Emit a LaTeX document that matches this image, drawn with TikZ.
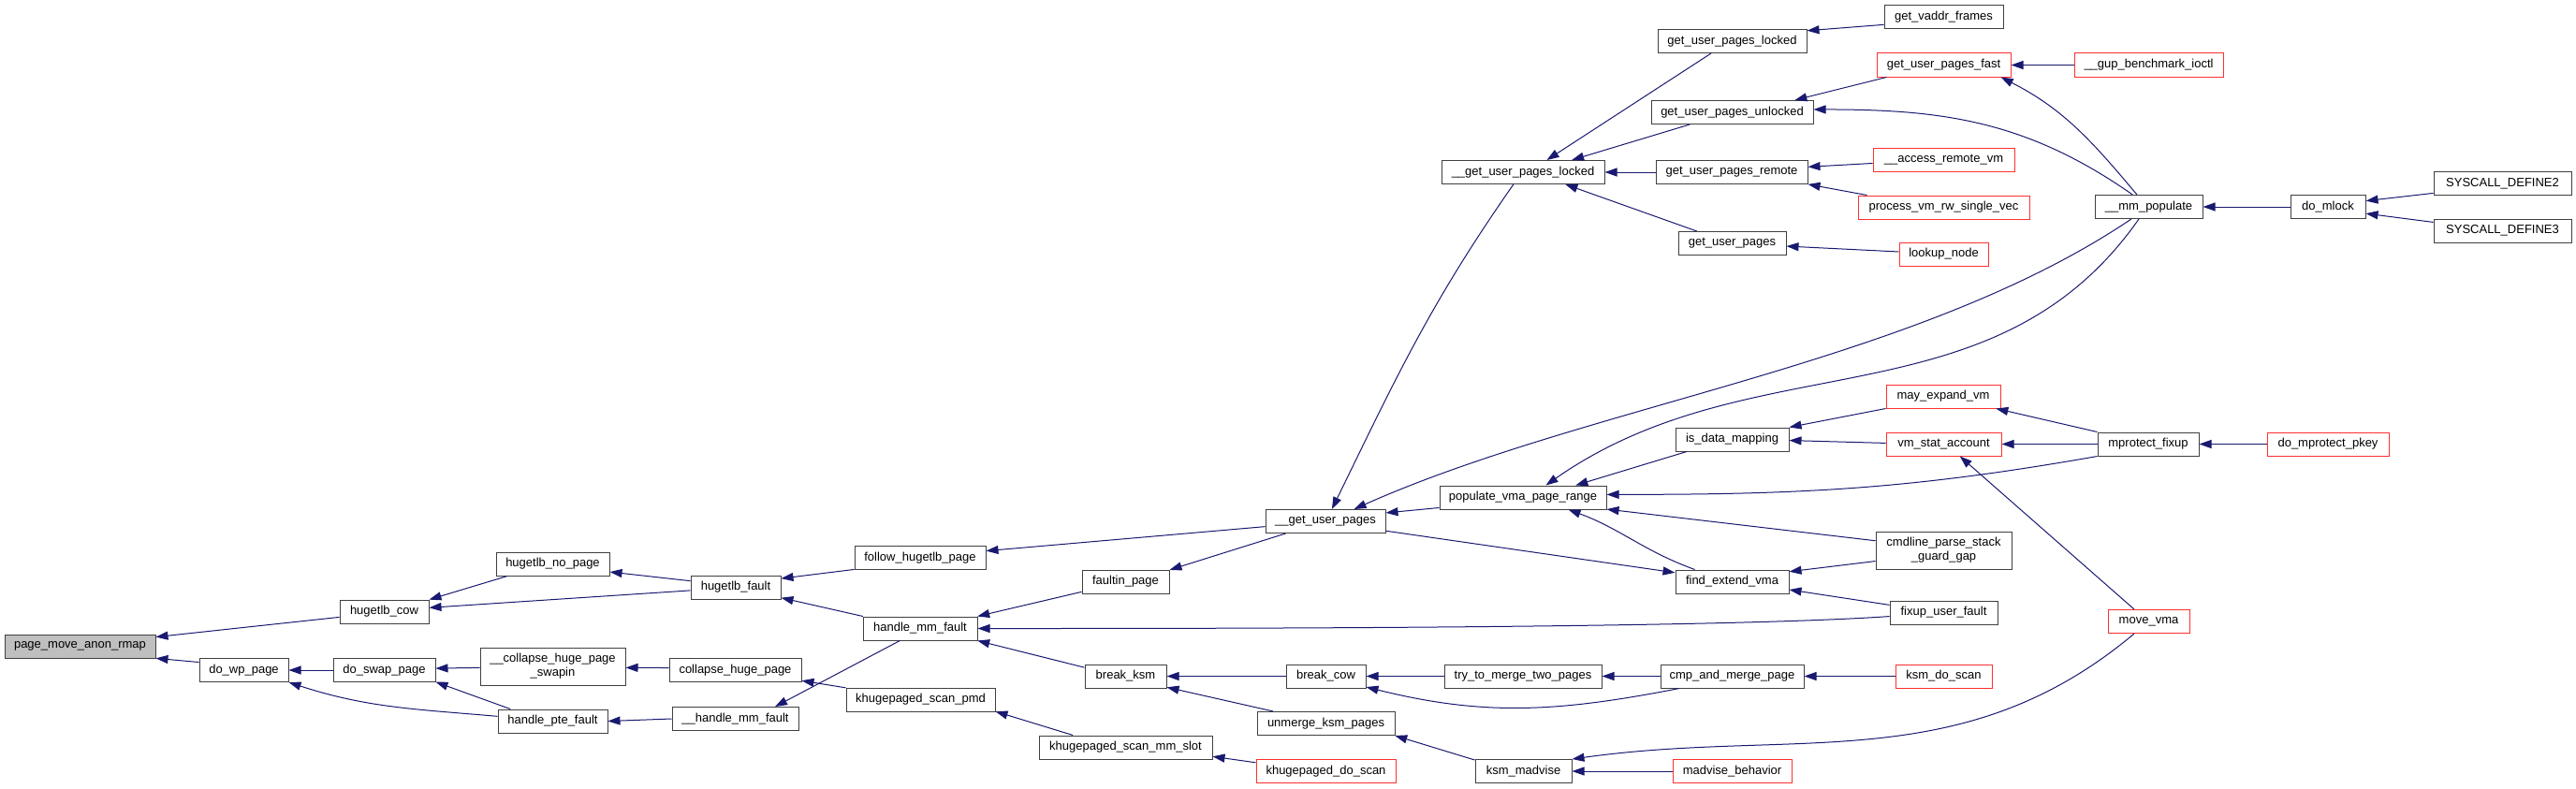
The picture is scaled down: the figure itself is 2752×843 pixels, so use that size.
\documentclass[tikz,border=0pt]{standalone}
\usepackage{fontspec}
\setmainfont{Liberation Sans}
\usetikzlibrary{arrows.meta}

\definecolor{edgeblue}{HTML}{191970}
\definecolor{boxline}{HTML}{404040}
\definecolor{boxred}{HTML}{FF3030}
\definecolor{rootfill}{HTML}{BFBFBF}

\begin{document}
\begin{tikzpicture}[
		x=1pt,
		y=1pt,
		fn/.style={draw=boxline, line width=1pt, rectangle, inner sep=0pt,
				minimum height=25pt, text=black, font=\fontsize{13}{15}\selectfont},
		fnred/.style={fn, draw=boxred},
		fnroot/.style={fn, fill=rootfill},
		fntwo/.style={fn, align=center, minimum height=40pt},
		call/.style={draw=edgeblue, line width=1pt, -{Triangle[length=13pt,width=9pt]}}
	]

	\useasboundingbox (0,0) rectangle (2752,-843);

	% Root function
	\node[fnroot, minimum width=161pt] (pmar) at (85.5,-690.5) {page\_move\_anon\_rmap};

	% Callers, black boxes
	\foreach \id/\cx/\cy/\w/\txt in {
			hcow/410.5/653.5/95/hugetlb\_cow,
			dwp/260.5/716/95/do\_wp\_page,
			dsp/410.5/716/109/do\_swap\_page,
			hnp/590.5/602.5/121/hugetlb\_no\_page,
			hflt/786/627.5/96/hugetlb\_fault,
			chp/785.5/716/141/collapse\_huge\_page,
			hpf/590.5/770.5/117/handle\_pte\_fault,
			hmfi/785.5/768/135/\_\_handle\_mm\_fault,
			fhp/983/596/140/follow\_hugetlb\_page,
			fip/1202.5/621.5/93/faultin\_page,
			hmf/983/671.5/122/handle\_mm\_fault,
			bksm/1202.5/722.5/87/break\_ksm,
			ksp/983.5/747.5/159/khugepaged\_scan\_pmd,
			ksms/1202.5/798.5/185/khugepaged\_scan\_mm\_slot,
			gup/1416/557/128/\_\_get\_user\_pages,
			bcow/1416.5/722.5/85/break\_cow,
			umkp/1416.5/773/147/unmerge\_ksm\_pages,
			gupli/1627/184/174/\_\_get\_user\_pages\_locked,
			gupl/1850.5/44/159/get\_user\_pages\_locked,
			gupu/1850.5/120/173/get\_user\_pages\_unlocked,
			gupr/1850/184/162/get\_user\_pages\_remote,
			gupg/1850.5/260/115/get\_user\_pages,
			pvpr/1627/531.5/178/populate\_vma\_page\_range,
			idm/1850.5/469.5/121/is\_data\_mapping,
			fev/1850.5/621.5/121/find\_extend\_vma,
			ttm/1627/722.5/168/try\_to\_merge\_two\_pages,
			cmp/1850.5/722.5/153/cmp\_and\_merge\_page,
			ksmm/1627.5/824/103/ksm\_madvise,
			gvf/2076.5/18.5/127/get\_vaddr\_frames,
			mmp/2295.5/221/115/\_\_mm\_populate,
			mpf/2295/474.5/108/mprotect\_fixup,
			fuf/2076.5/654.5/115/fixup\_user\_fault,
			dml/2487/221/80/do\_mlock,
			sd2/2673.5/196/147/SYSCALL\_DEFINE2,
			sd3/2673.5/246.5/147/SYSCALL\_DEFINE3
		} {
			\node[fn, minimum width=\w pt] (\id) at (\cx,-\cy) {\txt};
		}

	% Two-line boxes
	\node[fntwo, minimum width=155pt] (chps) at (590.5,-712) {\_\_collapse\_huge\_page\\\_swapin};
	\node[fntwo, minimum width=145pt] (cps) at (2076.5,-588) {cmdline\_parse\_stack\\\_guard\_gap};

	% Callers, red boxes (truncated graph)
	\foreach \id/\cx/\cy/\w/\txt in {
			kds/1416.5/824/149/khugepaged\_do\_scan,
			mbh/1850.5/824/127/madvise\_behavior,
			gupf/2076.5/69.5/143/get\_user\_pages\_fast,
			gbi/2295.5/69.5/159/\_\_gup\_benchmark\_ioctl,
			arv/2076.5/170.5/151/\_\_access\_remote\_vm,
			pvr/2076.5/221.5/183/process\_vm\_rw\_single\_vec,
			lkn/2076.5/271.5/95/lookup\_node,
			mev/2076/423.5/122/may\_expand\_vm,
			vsa/2076.5/474.5/123/vm\_stat\_account,
			mvm/2295.5/664/87/move\_vma,
			kdsc/2076.5/722.5/103/ksm\_do\_scan,
			dmp/2487/474.5/130/do\_mprotect\_pkey
		} {
			\node[fnred, minimum width=\w pt] (\id) at (\cx,-\cy) {\txt};
		}

	% Calls, left part
	\draw[call] (hcow.187) -- (pmar.7);
	\draw[call] (dwp.170) -- (pmar.-9);
	\draw[call] (hnp.195) -- (hcow.15);
	\draw[call] (hflt.184) -- (hcow.5);
	\draw[call] (dsp.west) -- (dwp.east);
	\draw[call] (hpf.175) to[out=175,in=-18] (dwp.south east);
	\draw[call] (chps.181) -- (dsp.2);
	\draw[call] (hpf.164) -- (dsp.-13);
	\draw[call] (hflt.172) -- (hnp.-8);
	\draw[call] (chp.178) -- (chps.-1);
	\draw[call] (hmfi.west) -- (hpf.east);
	\draw[call] (fhp.190) -- (hflt.11);
	\draw[call] (hmf.168) -- (hflt.-13);
	\draw[call] (ksp.171) -- (chp.-9);
	\draw[call] (hmf.211) -- (hmfi.17);

	% Calls, middle part
	\draw[call] (gup.185) -- (fhp.6);
	\draw[call] (fip.193) -- (hmf.12);
	\draw[call] (fuf.184) to[out=184,in=0,looseness=0.5] (hmf.east);
	\draw[call] (bksm.168) -- (hmf.-12);
	\draw[call] (ksms.167) -- (ksp.-9);
	\draw[call] (kds.173) -- (ksms.-6);
	\draw[call] (gup.197) -- (fip.15);
	\draw[call] (bcow.west) -- (bksm.east);
	\draw[call] (umkp.167) -- (bksm.-15);
	\draw[call] (gupli.232) to[out=-125,in=64] (gup.62);
	\draw[call] (mmp.215) to[out=214,in=24,looseness=0.8] (gup.23);
	\draw[call] (pvpr.187) -- (gup.8);
	\draw[call] (gup.-9) -- (fev.171);
	\draw[call] (ttm.west) -- (bcow.east);
	\draw[call] (cmp.193) to[out=191,in=-14] (bcow.-15);
	\draw[call] (ksmm.167) -- (umkp.-10);
	\draw[call] (mvm.220) to[out=220,in=8] (ksmm.14);
	\draw[call] (mbh.west) -- (ksmm.east);

	% Calls into populate_vma_page_range and friends
	\draw[call] (idm.195) -- (pvpr.13);
	\draw[call] (mmp.231) to[out=235,in=35] (pvpr.28);
	\draw[call] (mpf.south west) to[out=190,in=0] (pvpr.2);
	\draw[call] (cps.172) -- (pvpr.-8);
	\draw[call] (fev.162) to[out=160,in=-20] (pvpr.-15);
	\draw[call] (mev.south west) -- (idm.north east);
	\draw[call] (vsa.179) -- (idm.-1);
	\draw[call] (mpf.north west) -- (mev.-13);
	\draw[call] (mpf.west) -- (vsa.east);
	\draw[call] (mvm.140) -- (vsa.-37);
	\draw[call] (cps.189) -- (fev.10);
	\draw[call] (fuf.172) -- (fev.-8);
	\draw[call] (kdsc.west) -- (cmp.east);
	\draw[call] (cmp.west) -- (ttm.east);

	% Calls into __get_user_pages_locked and friends
	\draw[call] (gupl.210) -- (gupli.27);
	\draw[call] (gupu.196) -- (gupli.14);
	\draw[call] (gupr.west) -- (gupli.east);
	\draw[call] (gupg.161) -- (gupli.-16);
	\draw[call] (gvf.187) -- (gupl.8);
	\draw[call] (gupf.192) -- (gupu.11);
	\draw[call] (mmp.143) to[out=145,in=0] (gupu.2);
	\draw[call] (gbi.west) -- (gupf.east);
	\draw[call] (mmp.134) to[out=130,in=-27] (gupf.-12);
	\draw[call] (arv.183) -- (gupr.4);
	\draw[call] (pvr.171) -- (gupr.-9);
	\draw[call] (lkn.177) -- (gupg.-3);

	% Calls, right part
	\draw[call] (dml.west) -- (mmp.east);
	\draw[call] (sd2.188) -- (dml.9);
	\draw[call] (sd3.173) -- (dml.-10);
	\draw[call] (dmp.west) -- (mpf.east);

\end{tikzpicture}
\end{document}
